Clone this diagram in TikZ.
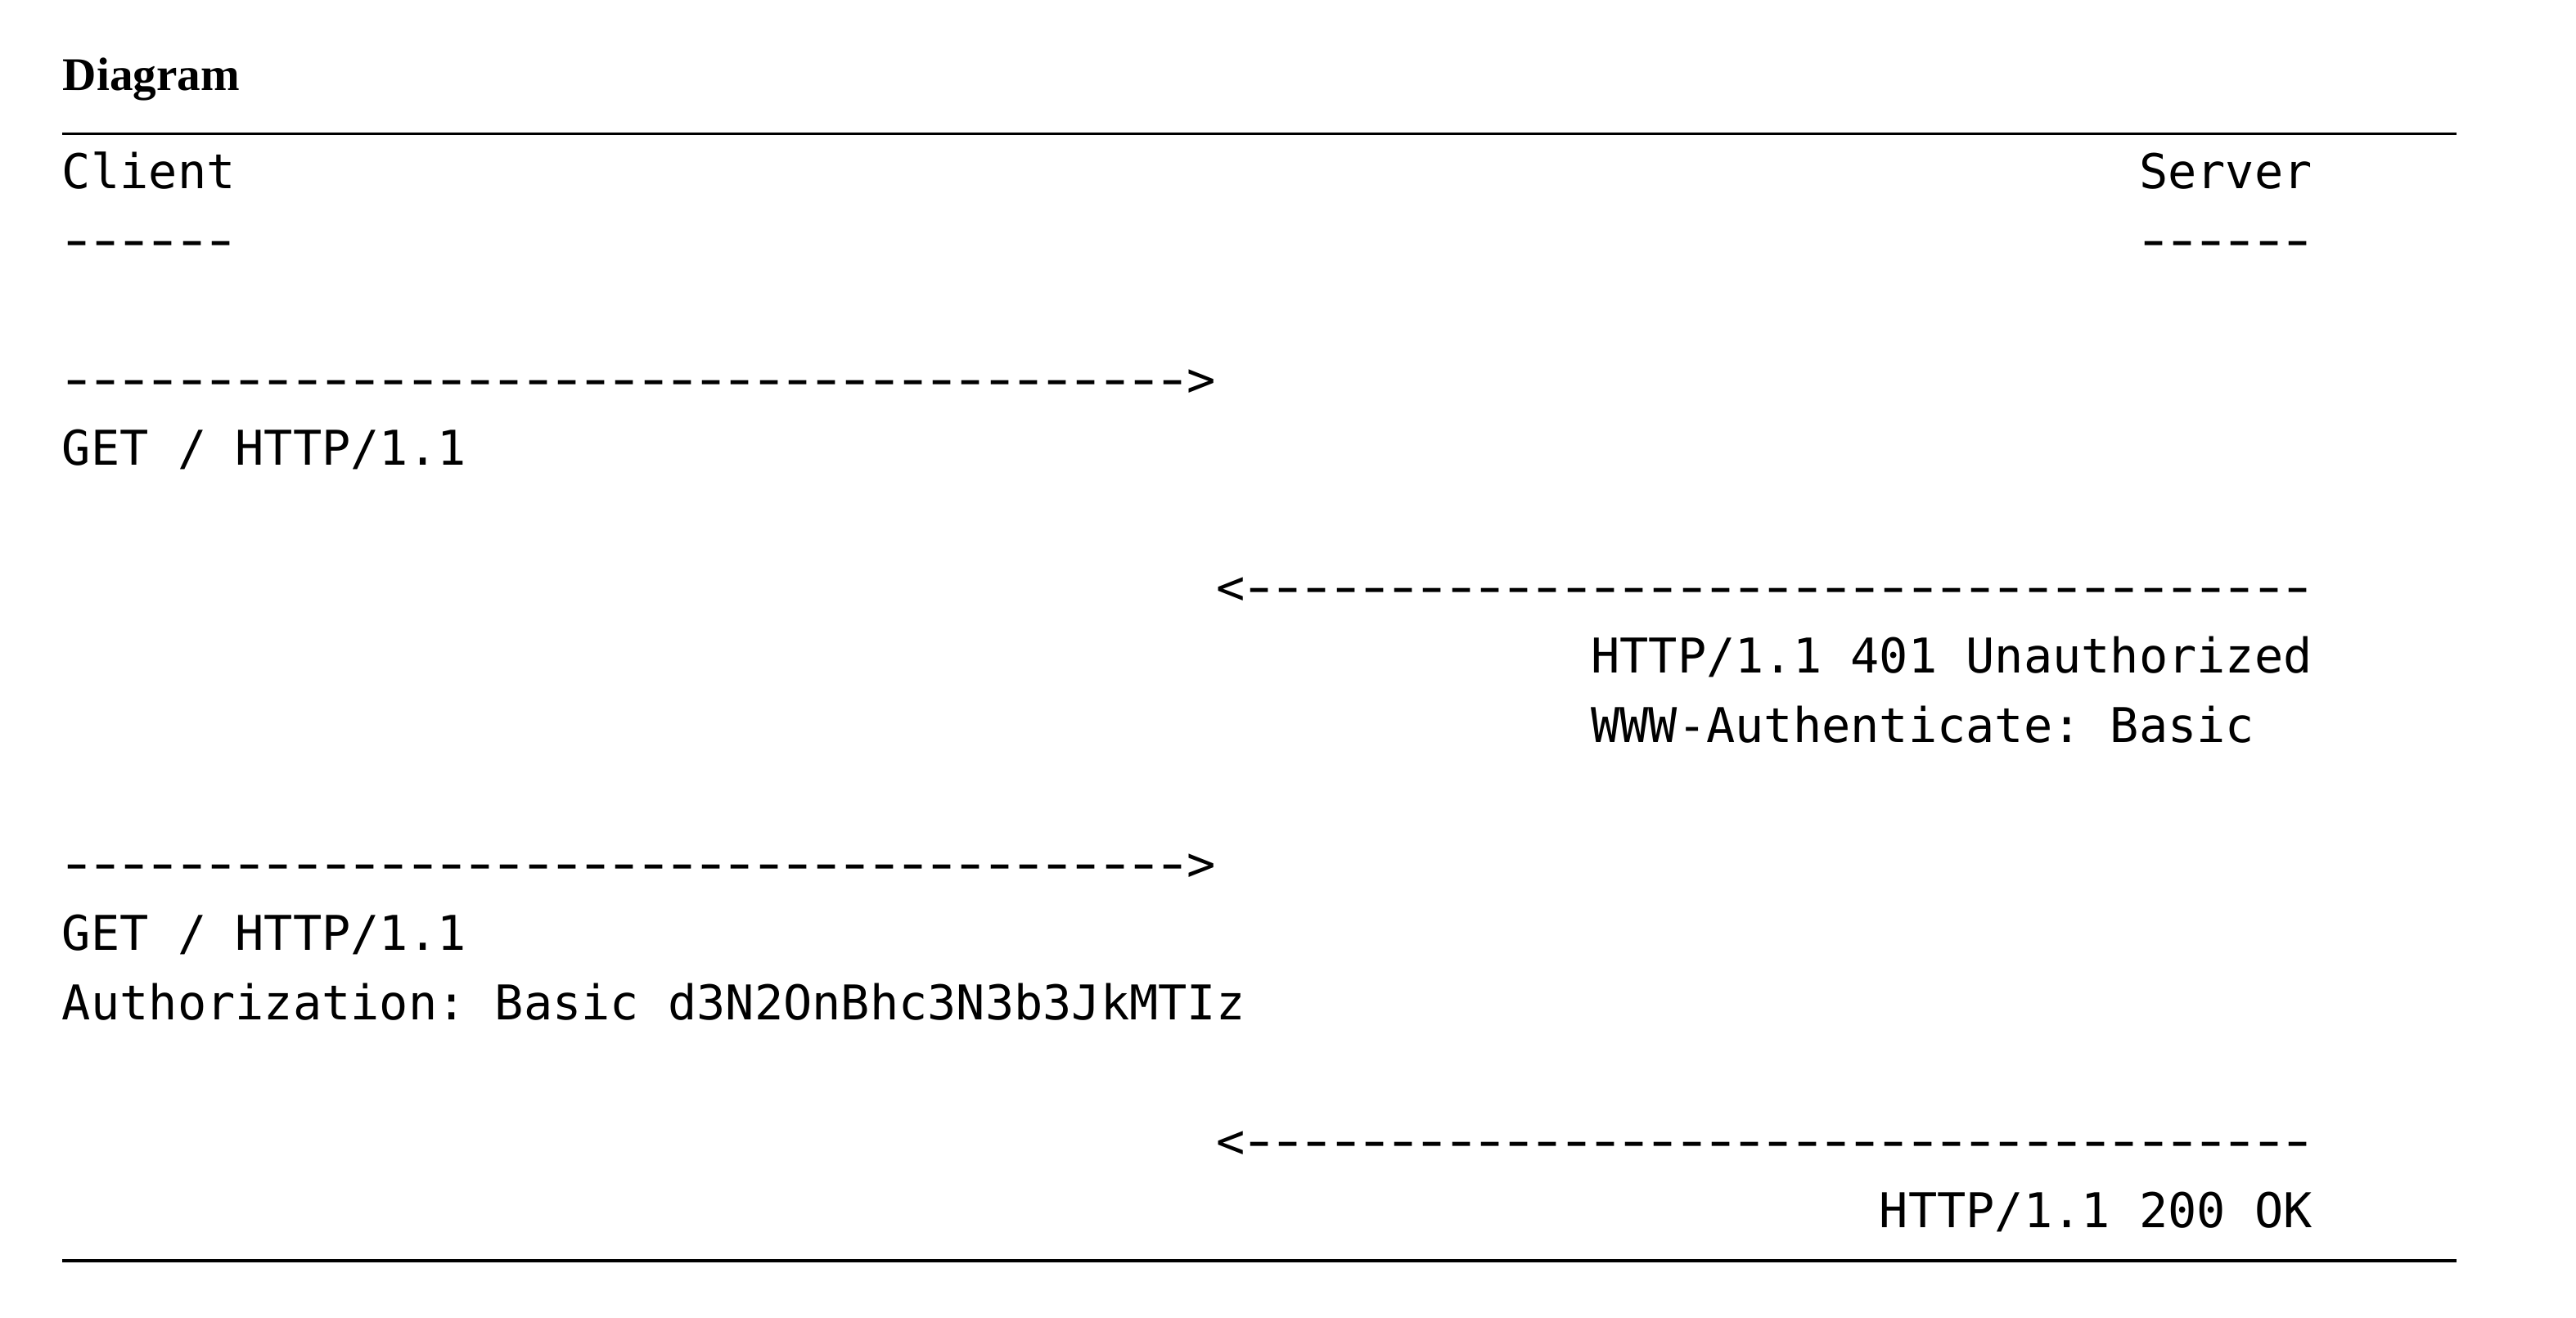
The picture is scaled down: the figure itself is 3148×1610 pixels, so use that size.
\documentclass[tikz,border=0pt]{standalone}
\usepackage{fontspec}
\usepackage{graphicx}
\setmonofont{DejaVu Sans Mono}
\newfontfamily\headfont{Liberation Serif}
% one monospaced cell holding a (widened) hyphen, as the reference's mono font draws it
\newcommand\hy{\makebox[8.813pt][c]{\scalebox{1.45}[1.05]{-}}}
\newcommand\hyrun[1]{\foreach \hyi in {1,...,#1}{\hy}}
\begin{document}
\begin{tikzpicture}[x=0.25pt,y=-0.25pt,
  mono/.style={anchor=base west,inner sep=0pt,outer sep=0pt,font=\ttfamily\fontsize{14.64pt}{17pt}\selectfont},
  head/.style={anchor=base west,inner sep=0pt,outer sep=0pt,font=\headfont\bfseries\fontsize{14.3pt}{17pt}\selectfont},
  hrule/.style={line width=0.8pt}]
\useasboundingbox (0,0) rectangle (3148,1610);
% heading and rules
\node[head] (title) at (77,110) {Diagram};
\coordinate (tl) at (76,163.3);
\coordinate (tr) at (3001.5,163.3);
\draw[hrule] (tl) -- (tr);
\coordinate (bl) at (76,1541);
\coordinate (br) at (3001.5,1541);
\draw[hrule] (bl) -- (br);
% columns: x = 76 + 35.25*c ; rows: y = 230 + 84.67*r
\node[mono] (client)     at (76,230)      {Client};
\node[mono] (server)     at (2614,230)    {Server};
\node[mono] (clientrule) at (76,314.7)    {\hyrun{6}};
\node[mono] (serverrule) at (2614,314.7)  {\hyrun{6}};
\node[mono] (req1arrow)  at (76,484)      {\hyrun{39}>};
\node[mono] (req1)       at (76,568.7)    {GET / HTTP/1.1};
\node[mono] (resp1arrow) at (1486,738)    {<\hyrun{37}};
\node[mono] (resp1a)     at (1944.25,822.7) {HTTP/1.1 401 Unauthorized};
\node[mono] (resp1b)     at (1944.25,907.4) {WWW-Authenticate: Basic};
\node[mono] (req2arrow)  at (76,1076.7)   {\hyrun{39}>};
\node[mono] (req2a)      at (76,1161.4)   {GET / HTTP/1.1};
\node[mono] (req2b)      at (76,1246)     {Authorization: Basic d3N2OnBhc3N3b3JkMTIz};
\node[mono] (resp2arrow) at (1486,1415.4) {<\hyrun{37}};
\node[mono] (resp2)      at (2296.75,1500) {HTTP/1.1 200 OK};
\end{tikzpicture}
\end{document}
